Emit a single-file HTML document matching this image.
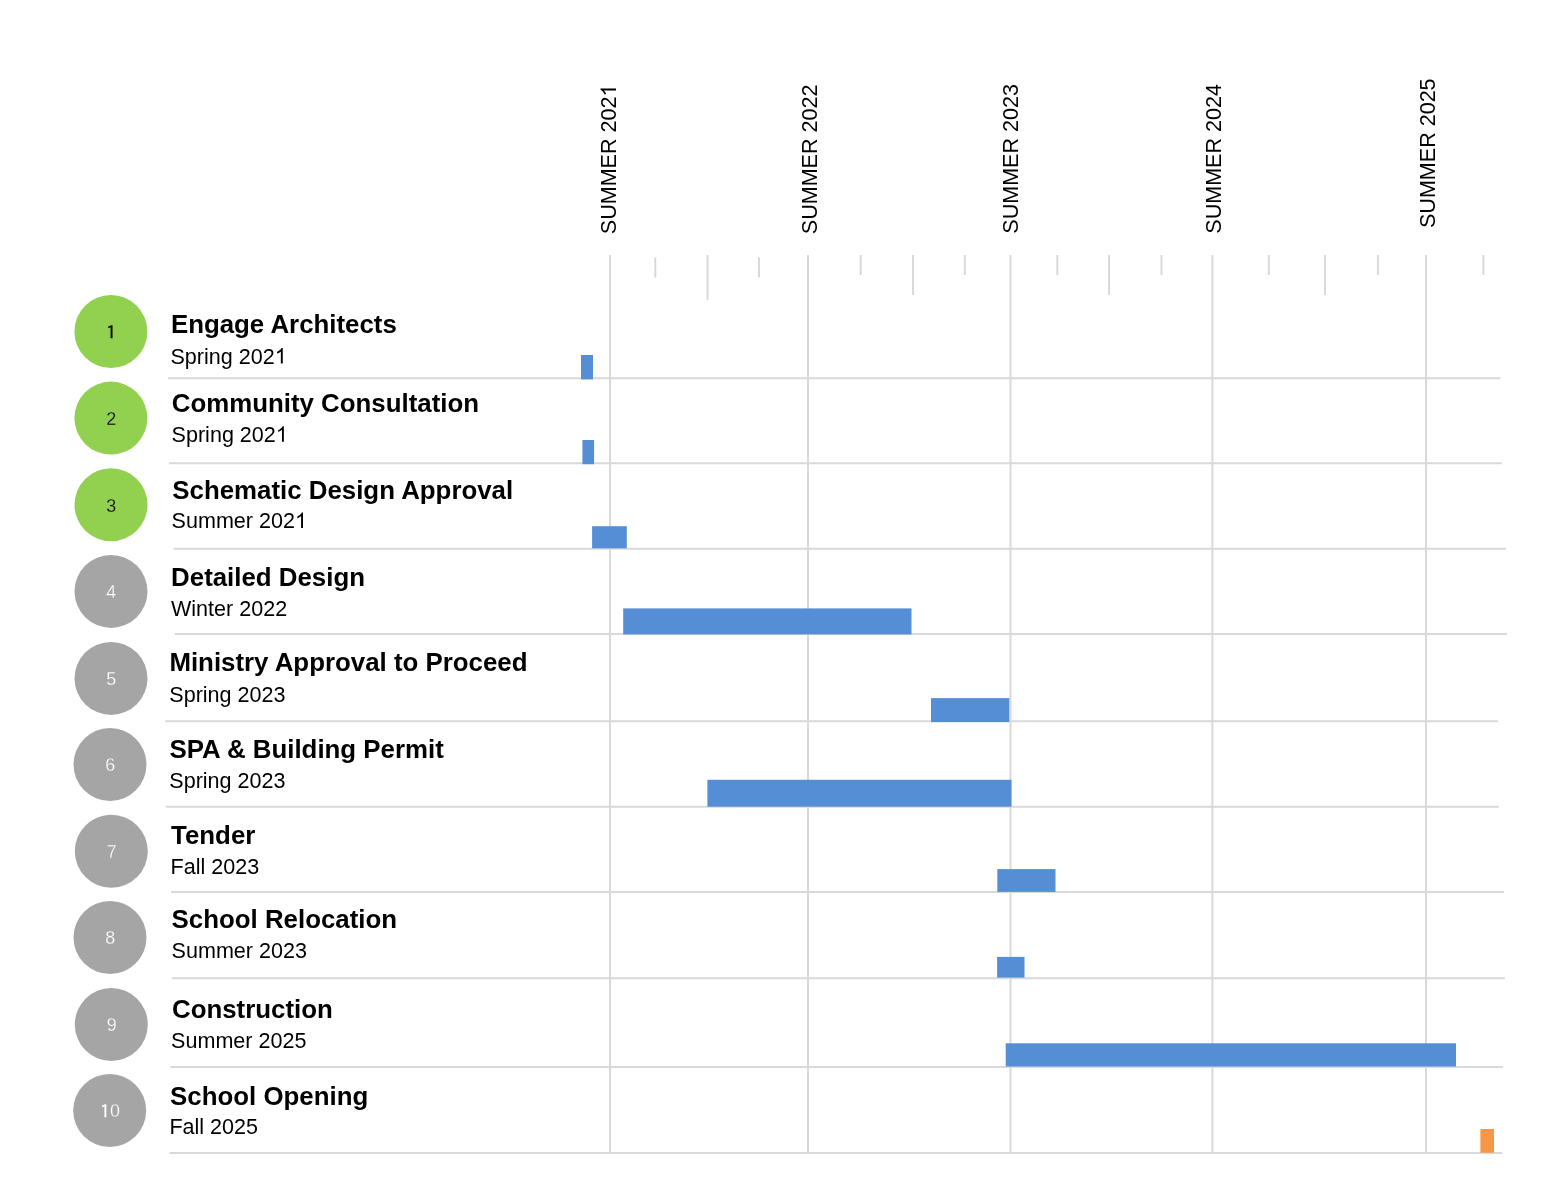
<!DOCTYPE html>
<html><head><meta charset="utf-8"><style>html,body{margin:0;padding:0;background:#fff;overflow:hidden;width:1553px;height:1200px}svg{display:block;will-change:transform}text{font-family:"Liberation Sans",sans-serif}.one{fill:transparent}</style></head><body>
<svg width="1553" height="1200" viewBox="0 0 1553 1200">
<rect width="1553" height="1200" fill="#fff"></rect>
<line x1="610" y1="255" x2="610" y2="1153" stroke="#D9D9D9" stroke-width="2"></line>
<line x1="808" y1="255" x2="808" y2="1153" stroke="#D9D9D9" stroke-width="2"></line>
<line x1="1010.5" y1="255" x2="1010.5" y2="1153" stroke="#D9D9D9" stroke-width="2"></line>
<line x1="1212.4" y1="255" x2="1212.4" y2="1153" stroke="#D9D9D9" stroke-width="2"></line>
<line x1="1426" y1="255" x2="1426" y2="1153" stroke="#D9D9D9" stroke-width="2"></line>
<line x1="655.3" y1="257.4" x2="655.3" y2="277.6" stroke="#D9D9D9" stroke-width="2"></line>
<line x1="759" y1="257.4" x2="759" y2="277.6" stroke="#D9D9D9" stroke-width="2"></line>
<line x1="707.5" y1="255" x2="707.5" y2="300" stroke="#D9D9D9" stroke-width="2"></line>
<line x1="860.7" y1="255" x2="860.7" y2="275" stroke="#D9D9D9" stroke-width="2"></line>
<line x1="964.8" y1="255" x2="964.8" y2="275" stroke="#D9D9D9" stroke-width="2"></line>
<line x1="1057.3" y1="255" x2="1057.3" y2="275" stroke="#D9D9D9" stroke-width="2"></line>
<line x1="1161.5" y1="255" x2="1161.5" y2="275" stroke="#D9D9D9" stroke-width="2"></line>
<line x1="1268.8" y1="255" x2="1268.8" y2="275" stroke="#D9D9D9" stroke-width="2"></line>
<line x1="1377.9" y1="255" x2="1377.9" y2="275" stroke="#D9D9D9" stroke-width="2"></line>
<line x1="1483.4" y1="255" x2="1483.4" y2="275" stroke="#D9D9D9" stroke-width="2"></line>
<line x1="913" y1="255" x2="913" y2="295" stroke="#D9D9D9" stroke-width="2"></line>
<line x1="1109.1" y1="255" x2="1109.1" y2="295" stroke="#D9D9D9" stroke-width="2"></line>
<line x1="1325" y1="255" x2="1325" y2="295" stroke="#D9D9D9" stroke-width="2"></line>
<line x1="168" y1="378.3" x2="1500.4" y2="378.3" stroke="#D9D9D9" stroke-width="2"></line>
<line x1="169" y1="463.3" x2="1501.7" y2="463.3" stroke="#D9D9D9" stroke-width="2"></line>
<line x1="173.7" y1="548.8" x2="1506" y2="548.8" stroke="#D9D9D9" stroke-width="2"></line>
<line x1="174.7" y1="634" x2="1507" y2="634" stroke="#D9D9D9" stroke-width="2"></line>
<line x1="165.2" y1="721.3" x2="1497.9" y2="721.3" stroke="#D9D9D9" stroke-width="2"></line>
<line x1="165.8" y1="806.8" x2="1498.8" y2="806.8" stroke="#D9D9D9" stroke-width="2"></line>
<line x1="171.2" y1="892" x2="1503.9" y2="892" stroke="#D9D9D9" stroke-width="2"></line>
<line x1="171.9" y1="978.2" x2="1504.8" y2="978.2" stroke="#D9D9D9" stroke-width="2"></line>
<line x1="170.3" y1="1066.9" x2="1503" y2="1066.9" stroke="#D9D9D9" stroke-width="2"></line>
<line x1="169.6" y1="1153" x2="1502.3" y2="1153" stroke="#D9D9D9" stroke-width="2"></line>
<rect x="581" y="355" width="12.0" height="24.4" fill="#558ED5"></rect>
<rect x="582.4" y="440" width="11.7" height="24.2" fill="#558ED5"></rect>
<rect x="592.1" y="526.2" width="34.7" height="22.1" fill="#558ED5"></rect>
<rect x="623.2" y="608.4" width="288.3" height="26.0" fill="#558ED5"></rect>
<rect x="931" y="698.1" width="78.3" height="24.0" fill="#558ED5"></rect>
<rect x="707.4" y="779.8" width="304.1" height="26.9" fill="#558ED5"></rect>
<rect x="997.3" y="869.1" width="58.2" height="22.8" fill="#558ED5"></rect>
<rect x="997.1" y="956.9" width="27.4" height="20.7" fill="#558ED5"></rect>
<rect x="1005.7" y="1043.3" width="450.3" height="23.2" fill="#558ED5"></rect>
<rect x="1480.4" y="1129" width="13.6" height="23.75" fill="#F79646"></rect>
<circle cx="110.9" cy="331.5" r="36.5" fill="#92D050"></circle>
<text transform="translate(111.2 338.35) scale(0.96 1)" text-anchor="middle" font-family="Liberation Sans" font-size="18.65" fill="#000" stroke="#92D050" stroke-width="0.25"><tspan class="one">1</tspan></text><path d="M763,0 L543,0 L543,1250 L273,1135 L273,1330 L620,1472 L763,1472 Z" transform="translate(111.2 338.35) scale(0.96 1) translate(-5.59 0.00) scale(0.00911 -0.00883)" fill="#000"></path>
<circle cx="110.9" cy="418.1" r="36.5" fill="#92D050"></circle>
<text transform="translate(111.2 424.95000000000005) scale(0.96 1)" text-anchor="middle" font-family="Liberation Sans" font-size="18.65" fill="#000" stroke="#92D050" stroke-width="0.25">2</text>
<circle cx="111" cy="504.8" r="36.5" fill="#92D050"></circle>
<text transform="translate(111.3 511.65000000000003) scale(0.96 1)" text-anchor="middle" font-family="Liberation Sans" font-size="18.65" fill="#000" stroke="#92D050" stroke-width="0.25">3</text>
<circle cx="111" cy="591.4" r="36.5" fill="#A5A5A5"></circle>
<text transform="translate(111.3 598.25) scale(0.96 1)" text-anchor="middle" font-family="Liberation Sans" font-size="18.65" fill="#fff" stroke="#A5A5A5" stroke-width="0.25">4</text>
<circle cx="111" cy="678.4" r="36.5" fill="#A5A5A5"></circle>
<text transform="translate(111.3 685.25) scale(0.96 1)" text-anchor="middle" font-family="Liberation Sans" font-size="18.65" fill="#fff" stroke="#A5A5A5" stroke-width="0.25">5</text>
<circle cx="110" cy="764.5" r="36.5" fill="#A5A5A5"></circle>
<text transform="translate(110.3 771.35) scale(0.96 1)" text-anchor="middle" font-family="Liberation Sans" font-size="18.65" fill="#fff" stroke="#A5A5A5" stroke-width="0.25">6</text>
<circle cx="111.3" cy="851.3" r="36.5" fill="#A5A5A5"></circle>
<text transform="translate(111.6 858.15) scale(0.96 1)" text-anchor="middle" font-family="Liberation Sans" font-size="18.65" fill="#fff" stroke="#A5A5A5" stroke-width="0.25">7</text>
<circle cx="110" cy="937.5" r="36.5" fill="#A5A5A5"></circle>
<text transform="translate(110.3 944.35) scale(0.96 1)" text-anchor="middle" font-family="Liberation Sans" font-size="18.65" fill="#fff" stroke="#A5A5A5" stroke-width="0.25">8</text>
<circle cx="111.3" cy="1024.5" r="36.5" fill="#A5A5A5"></circle>
<text transform="translate(111.6 1031.35) scale(0.96 1)" text-anchor="middle" font-family="Liberation Sans" font-size="18.65" fill="#fff" stroke="#A5A5A5" stroke-width="0.25">9</text>
<circle cx="109.7" cy="1110.5" r="36.5" fill="#A5A5A5"></circle>
<text transform="translate(110.0 1117.35) scale(0.96 1)" text-anchor="middle" font-family="Liberation Sans" font-size="18.65" fill="#fff" stroke="#A5A5A5" stroke-width="0.25"><tspan class="one">1</tspan>0</text><path d="M763,0 L543,0 L543,1250 L273,1135 L273,1330 L620,1472 L763,1472 Z" transform="translate(110.0 1117.35) scale(0.96 1) translate(-10.78 0.00) scale(0.00911 -0.00883)" fill="#fff"></path>
<text x="170.9" y="333.2" font-family="Liberation Sans" font-weight="bold" font-size="25.85" fill="#000">Engage Architects</text>
<text x="170.5" y="363.5" font-family="Liberation Sans" font-size="21.55" fill="#000">Spring 202<tspan class="one">1</tspan></text><path d="M763,0 L583,0 L583,1147 Q518,1085 465,1054 Q412,1023 359.5,992 Q307,961 223,930 L223,1104 Q374,1175 430.5,1225.5 Q487,1276 543.5,1326.5 Q600,1377 647,1472 L763,1472 Z" transform="translate(274.73 363.50) scale(0.01052 -0.01052)" fill="#000"></path>
<text x="171.8" y="411.7" font-family="Liberation Sans" font-weight="bold" font-size="25.85" fill="#000">Community Consultation</text>
<text x="171.6" y="441.8" font-family="Liberation Sans" font-size="21.55" fill="#000">Spring 202<tspan class="one">1</tspan></text><path d="M763,0 L583,0 L583,1147 Q518,1085 465,1054 Q412,1023 359.5,992 Q307,961 223,930 L223,1104 Q374,1175 430.5,1225.5 Q487,1276 543.5,1326.5 Q600,1377 647,1472 L763,1472 Z" transform="translate(275.83 441.80) scale(0.01052 -0.01052)" fill="#000"></path>
<text x="172.3" y="498.5" font-family="Liberation Sans" font-weight="bold" font-size="25.85" fill="#000">Schematic Design Approval</text>
<text x="171.6" y="528.1" font-family="Liberation Sans" font-size="21.55" fill="#000">Summer 202<tspan class="one">1</tspan></text><path d="M763,0 L583,0 L583,1147 Q518,1085 465,1054 Q412,1023 359.5,992 Q307,961 223,930 L223,1104 Q374,1175 430.5,1225.5 Q487,1276 543.5,1326.5 Q600,1377 647,1472 L763,1472 Z" transform="translate(294.96 528.10) scale(0.01052 -0.01052)" fill="#000"></path>
<text x="171.1" y="586.2" font-family="Liberation Sans" font-weight="bold" font-size="25.85" fill="#000">Detailed Design</text>
<text x="171.0" y="616.0" font-family="Liberation Sans" font-size="21.55" fill="#000">Winter 2022</text>
<text x="169.4" y="671.4" font-family="Liberation Sans" font-weight="bold" font-size="25.85" fill="#000">Ministry Approval to Proceed</text>
<text x="169.3" y="701.8" font-family="Liberation Sans" font-size="21.55" fill="#000">Spring 2023</text>
<text x="169.5" y="757.7" font-family="Liberation Sans" font-weight="bold" font-size="25.85" fill="#000">SPA &amp; Building Permit</text>
<text x="169.3" y="788.1" font-family="Liberation Sans" font-size="21.55" fill="#000">Spring 2023</text>
<text x="171.1" y="843.9" font-family="Liberation Sans" font-weight="bold" font-size="25.85" fill="#000">Tender</text>
<text x="170.6" y="873.7" font-family="Liberation Sans" font-size="21.55" fill="#000">Fall 2023</text>
<text x="171.6" y="927.5" font-family="Liberation Sans" font-weight="bold" font-size="25.85" fill="#000">School Relocation</text>
<text x="171.6" y="957.5" font-family="Liberation Sans" font-size="21.55" fill="#000">Summer 2023</text>
<text x="172.0" y="1018.2" font-family="Liberation Sans" font-weight="bold" font-size="25.85" fill="#000">Construction</text>
<text x="171.1" y="1047.9" font-family="Liberation Sans" font-size="21.55" fill="#000">Summer 2025</text>
<text x="170.1" y="1104.6" font-family="Liberation Sans" font-weight="bold" font-size="25.85" fill="#000">School Opening</text>
<text x="169.4" y="1134.4" font-family="Liberation Sans" font-size="21.55" fill="#000">Fall 2025</text>
<text transform="translate(616 234.2) rotate(-90) scale(1 1.06)" font-family="Liberation Sans" font-size="21.55" fill="#000">SUMMER 202<tspan class="one">1</tspan></text><path d="M763,0 L583,0 L583,1147 Q518,1085 465,1054 Q412,1023 359.5,992 Q307,961 223,930 L223,1104 Q374,1175 430.5,1225.5 Q487,1276 543.5,1326.5 Q600,1377 647,1472 L763,1472 Z" transform="translate(616 234.2) rotate(-90) scale(1 1.06) translate(137.61 0.00) scale(0.01052 -0.00993)" fill="#000"></path>
<text transform="translate(817.4 234.2) rotate(-90) scale(1 1.06)" font-family="Liberation Sans" font-size="21.55" fill="#000">SUMMER 2022</text>
<text transform="translate(1017.7 233.7) rotate(-90) scale(1 1.06)" font-family="Liberation Sans" font-size="21.55" fill="#000">SUMMER 2023</text>
<text transform="translate(1221.1 233.7) rotate(-90) scale(1 1.06)" font-family="Liberation Sans" font-size="21.55" fill="#000">SUMMER 2024</text>
<text transform="translate(1434.6 228) rotate(-90) scale(1 1.06)" font-family="Liberation Sans" font-size="21.55" fill="#000">SUMMER 2025</text>
</svg>

</body></html>
